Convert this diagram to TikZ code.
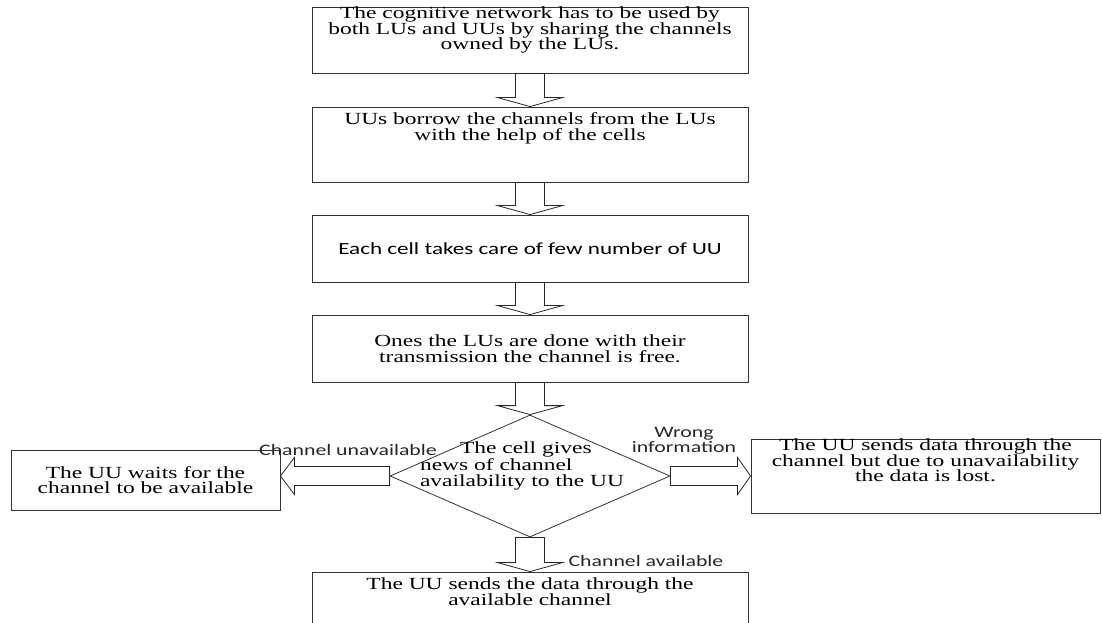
\documentclass[tikz,border=0pt]{standalone}
\usepackage{fontspec}
\setmainfont[FakeStretch=1.38]{Liberation Serif}
\setsansfont[FakeStretch=1.36]{Carlito}
\usetikzlibrary{shapes.geometric,calc}

\tikzstyle{process} = [rectangle, minimum width=436pt, inner sep=0pt, align=center, draw=black!80, line width=0.9pt, font=\fontsize{17}{15.5}\selectfont]
\tikzstyle{decision} = [diamond, minimum width=280pt, minimum height=122pt, inner sep=0pt, draw=black!80, line width=0.8pt]
\tikzstyle{toptext} = [anchor=north, align=center, inner sep=0pt, font=\fontsize{17}{15.5}\selectfont]
\tikzstyle{dtext} = [align=left, inner sep=0pt, xshift=-8pt, yshift=10pt, font=\fontsize{17}{15.5}\selectfont]
\tikzstyle{tag} = [align=center, inner sep=0pt, text=black!85, font=\sffamily\fontsize{16}{15.5}\selectfont]
\tikzstyle{blockarrow} = [draw=black!85, line width=0.8pt, line join=miter]

% block arrows
\newcommand{\vblock}[2]{%
  \draw[blockarrow] let \p1=(#1), \p2=(#2) in
    (\x1-14.5pt,\y1) -- (\x1+14.5pt,\y1) -- (\x1+14.5pt,\y2+9pt) -- (\x1+32.5pt,\y2+9pt)
    -- (\x1,\y2) -- (\x1-32.5pt,\y2+9pt) -- (\x1-14.5pt,\y2+9pt) -- cycle;}
\newcommand{\hblock}[3]{%
  \draw[blockarrow] let \p1=(#1), \p2=(#2) in
    (\x1,\y1+9.5pt) -- ({\x2+#3},\y1+9.5pt) -- ({\x2+#3},\y1+18.5pt) -- (\x2,\y1)
    -- ({\x2+#3},\y1-18.5pt) -- ({\x2+#3},\y1-9.5pt) -- (\x1,\y1-9.5pt) -- cycle;}

\begin{document}
\begin{tikzpicture}[x=1pt, y=-1pt]
	
	\path[use as bounding box, clip] (0,0) rectangle (1102,623);
	
	\node (cog) [process, minimum height=66pt, label={[toptext]north:{The cognitive network has to be used by\\both LUs and UUs by sharing the channels\\owned by the LUs.}}] at (530,40) {};
	\node (borrow) [process, minimum height=75pt, label={[toptext, yshift=-6pt]north:{UUs borrow the channels from the LUs\\with the help of the cells}}] at (530,144.5) {};
	\node (care) [process, minimum height=67pt, font=\sffamily\fontsize{17}{16}\selectfont] at (530,248.5) {Each cell takes care of few number of UU};
	\node (free) [process, minimum height=67pt] at (530,348.5) {Ones the LUs are done with their\\transmission the channel is free.};
	\node (news) [decision, label={[dtext]center:{\hspace*{40pt}The cell gives\\news of channel\\availability to the UU}}] at (530,476) {};
	\node (wait) [process, minimum width=269pt, minimum height=60pt] at (145.5,480) {The UU waits for the\\channel to be available};
	\node (lost) [process, minimum width=349pt, minimum height=74pt, label={[toptext]north:{The UU sends data through the\\channel but due to unavailability\\the data is lost.}}] at (925.5,476) {};
	\node (send) [process, minimum height=70pt, label={[toptext, yshift=-6pt]north:{The UU sends the data through the\\available channel}}] at (530,607) {};
	
	\node (unavail) [tag] at (348,450) {Channel unavailable};
	\node (wrong) [tag] at (684,440) {Wrong\\information};
	\node (avail) [tag] at (646,561) {Channel available};
	
	%arrow
	\vblock{cog.south}{borrow.north}
	\vblock{borrow.south}{care.north}
	\vblock{care.south}{free.north}
	\vblock{free.south}{news.north}
	\vblock{news.south}{send.north}
	\hblock{news.west}{wait.east}{14pt}
	\hblock{news.east}{lost.west}{-13pt}
	
\end{tikzpicture}
\end{document}
